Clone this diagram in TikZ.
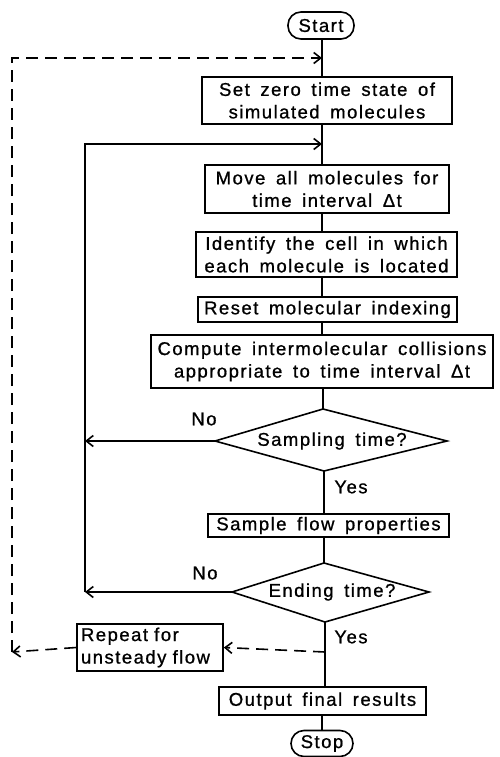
\documentclass[tikz,border=0pt]{standalone}
\usepackage{fontspec}
\setmainfont{Liberation Sans}[LetterSpace=8, WordSpace=1.6, BoldFont={Liberation Sans}, BoldFeatures={FakeBold=0.9}]
\usetikzlibrary{arrows.meta}
\tikzset{
  flow/.style={line width=1.6pt},
  arr/.style={-{Straight Barb[length=7pt,width=11pt]}},
  dashline/.style={line width=1.6pt, dash pattern=on 12pt off 7pt},
  box/.style={draw, line width=1.6pt, rectangle, inner sep=0pt, align=center},
  pill/.style={draw, line width=1.6pt, rectangle, rounded corners=13pt, inner sep=0pt,
    minimum width=66pt, minimum height=27pt},
  lbl/.style={inner sep=0pt},
}
\begin{document}
\begin{tikzpicture}[x=1pt,y=-1pt, font=\fontsize{18.5}{22.5}\selectfont\bfseries]
\useasboundingbox (0,0) rectangle (499,757);
% nodes
\node[pill] (start) at (321,25.5) {Start};
\node[box, minimum width=250pt, minimum height=47pt] (b1) at (327,100.5) {Set zero time state of\\simulated molecules};
\node[box, minimum width=244pt, minimum height=48pt] (b2) at (327,189) {Move all molecules for\\time interval Δt};
\node[box, minimum width=261pt, minimum height=45pt] (b3) at (326.5,254.5) {Identify the cell in which\\each molecule is located};
\node[box, minimum width=259pt, minimum height=25pt] (b4) at (327.5,309.5) {Reset molecular indexing};
\node[box, minimum width=342pt, minimum height=53pt] (b5) at (322,361.5) {Compute intermolecular collisions\\appropriate to time interval Δt};
% sampling diamond
\coordinate (d1t) at (323,409);
\coordinate (d1r) at (447,441);
\coordinate (d1b) at (324,471);
\coordinate (d1l) at (215,441);
\draw[flow] (d1t) -- (d1r) -- (d1b) -- (d1l) -- cycle;
\node[lbl] (d1) at (332,441) {Sampling time?};
\node[box, minimum width=241pt, minimum height=23pt] (b6) at (328.5,525.5) {Sample flow properties};
% ending diamond
\coordinate (d2t) at (324,563);
\coordinate (d2r) at (429,592);
\coordinate (d2b) at (325,622);
\coordinate (d2l) at (232,592);
\draw[flow] (d2t) -- (d2r) -- (d2b) -- (d2l) -- cycle;
\node[lbl] (d2) at (332,592) {Ending time?};
\node[box, minimum width=146pt, minimum height=47pt, align=left, text width=138pt] (rep) at (150,647.5) {Repeat for\\unsteady flow};
\node[box, minimum width=207pt, minimum height=28pt] (out) at (322.5,701) {Output final results};
\node[pill, minimum width=62pt, minimum height=26pt] (stop) at (322,743.5) {Stop};
% labels
\node[lbl] (no1) at (204,419) {No};
\node[lbl] (yes1) at (351,487) {Yes};
\node[lbl] (no2) at (205,573) {No};
\node[lbl] (yes2) at (351,637) {Yes};
% coordinates
\coordinate (dtop) at (322,58);
\coordinate (ltop) at (322,144);
\coordinate (dsplit) at (325,652);
\coordinate (L1) at (85,144);
\coordinate (L2) at (85,441);
\coordinate (L3) at (85,592);
\coordinate (D1) at (12,58);
\coordinate (D2) at (12,652);
% main spine
\draw[flow] (start.south -| dtop) -- (b1.north -| dtop);
\draw[flow] (b1.south -| dtop) -- (b2.north -| dtop);
\draw[flow] (b2.south -| dtop) -- (b3.north -| dtop);
\draw[flow] (b3.south -| dtop) -- (b4.north -| dtop);
\draw[flow] (b4.south -| dtop) -- (b5.north -| dtop);
\draw[flow] (b5.south -| d1t) -- (d1t);
\draw[flow] (d1b) -- (b6.north -| d1b);
\draw[flow] (b6.south -| d2t) -- (d2t);
\draw[flow] (d2b) -- (out.north -| d2b);
\draw[flow] (out.south -| stop) -- (stop.north);
% loops
\draw[flow, arr] (d1l) -- (L2);
\draw[flow, arr] (d2l) -- (L3);
\draw[flow, arr] (L3) -- (L1) -- (ltop);
% dashed
\draw[dashline, arr] (dsplit) -- (rep.east);
\draw[dashline, arr] (rep.west) -- (D2);
\draw[dashline, arr] (D2) -- (D1) -- (dtop);
\end{tikzpicture}
\end{document}
